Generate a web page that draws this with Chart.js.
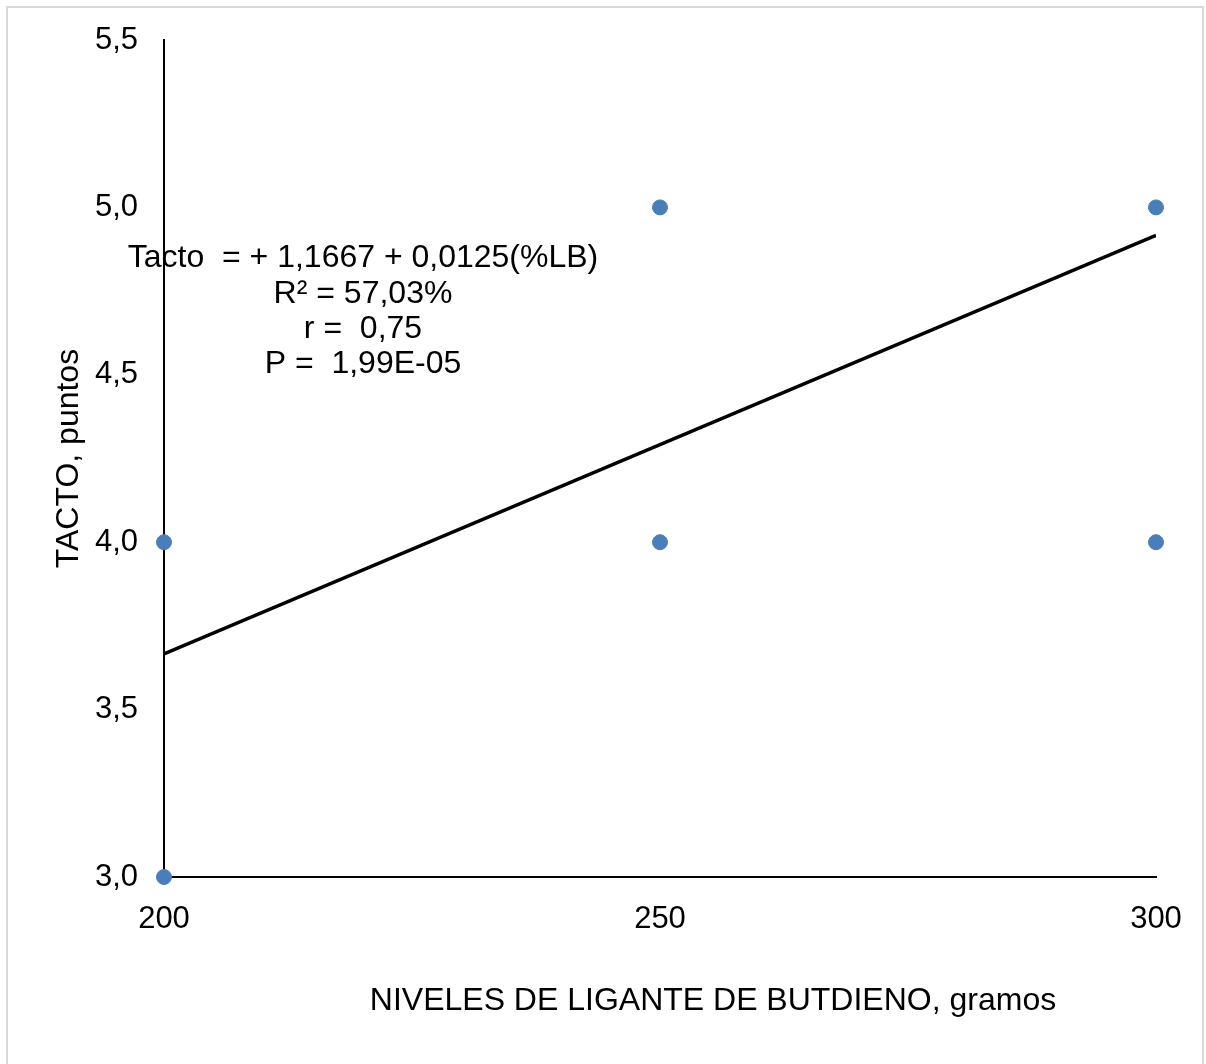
<!DOCTYPE html>
<html>
<head>
<meta charset="utf-8">
<script src="https://cdn.jsdelivr.net/npm/chart.js@4/dist/chart.umd.min.js"></script>
<style>
  body { margin: 0; background: #fff; }
  #wrap { position: relative; width: 1206px; height: 1064px; }
</style>
</head>
<body>
<div id="wrap"><canvas id="chart"></canvas></div>
<script>
// datos observados
const nivelesX = [200, 200, 250, 250, 300, 300];
const tactoY = [3.0, 4.0, 4.0, 5.0, 4.0, 5.0];
// linea de tendencia: Tacto = 1,1667 + 0,0125 x
const trendX = [200, 300];
const trendY = [3.6667, 4.9167];
const yTicks = [3.0, 3.5, 4.0, 4.5, 5.0, 5.5];
const xTicks = [200, 250, 300];
const eqLines = ['Tacto  = + 1,1667 + 0,0125(%LB)', 'R² = 57,03%', 'r =  0,75', 'P =  1,99E-05'];
const xTitle = 'NIVELES DE LIGANTE DE BUTDIENO, gramos';

const FONT = 'Arial, "Liberation Sans", sans-serif';

const scatterPts = nivelesX.map((x, i) => ({ x: x, y: tactoY[i] }));
const trendPts = trendX.map((x, i) => ({ x: x, y: trendY[i] }));

// marco gris, ecuacion y titulo del eje x
const extras = {
    id: 'extras',
    beforeDraw(chart) {
        const ctx = chart.ctx;
        ctx.save();
        ctx.strokeStyle = '#d9d9d9';
        ctx.lineWidth = 2;
        ctx.beginPath();
        ctx.moveTo(7, 1070);
        ctx.lineTo(7, 7);
        ctx.lineTo(1203, 7);
        ctx.lineTo(1203, 1070);
        ctx.stroke();
        ctx.restore();
    },
    afterDraw(chart) {
        const ctx = chart.ctx;
        ctx.save();
        ctx.fillStyle = '#000';
        ctx.font = '32px ' + FONT;
        ctx.textAlign = 'center';
        ctx.textBaseline = 'middle';
        const ys = [258, 294, 329, 364];
        eqLines.forEach((t, i) => ctx.fillText(t, 363, ys[i]));
        ctx.fillText(xTitle, 713, 1001);
        ctx.restore();
    }
};

new Chart(document.getElementById('chart'), {
    type: 'scatter',
    data: {
        datasets: [
            {
                type: 'line',
                data: trendPts,
                borderColor: '#000',
                borderWidth: 3.5,
                pointRadius: 0,
                fill: false,
                order: 2
            },
            {
                data: scatterPts,
                backgroundColor: '#4a7ebb',
                borderColor: '#4a7ebb',
                pointRadius: 7.5,
                pointHoverRadius: 7.5,
                clip: false,
                order: 1
            }
        ]
    },
    options: {
        responsive: true,
        maintainAspectRatio: false,
        animation: false,
        layout: { padding: { top: 40, right: 50, bottom: 0, left: 0 } },
        plugins: { legend: { display: false }, tooltip: { enabled: false } },
        scales: {
            x: {
                type: 'linear',
                min: 200,
                max: 300,
                afterBuildTicks: axis => { axis.ticks = xTicks.map(v => ({ value: v })); },
                afterFit: axis => { axis.height = 187; axis.paddingLeft = 0; axis.paddingRight = 0; },
                grid: { display: false, drawTicks: false },
                border: { color: '#000', width: 2 },
                ticks: { color: '#000', font: { size: 31, family: FONT }, padding: 24 }
            },
            y: {
                min: 3,
                max: 5.5,
                afterBuildTicks: axis => { axis.ticks = yTicks.map(v => ({ value: v })); },
                afterFit: axis => { axis.width = 164; axis.paddingTop = 0; axis.paddingBottom = 0; },
                grid: { display: false, drawTicks: false },
                border: { color: '#000', width: 2 },
                ticks: {
                    color: '#000',
                    font: { size: 31, family: FONT },
                    padding: 26,
                    callback: v => v.toFixed(1).replace('.', ',')
                },
                title: {
                    display: true,
                    text: 'TACTO, puntos',
                    color: '#000',
                    font: { size: 32, family: FONT },
                    padding: { top: 50, bottom: 0 }
                }
            }
        }
    },
    plugins: [extras]
});
</script>
</body>
</html>
